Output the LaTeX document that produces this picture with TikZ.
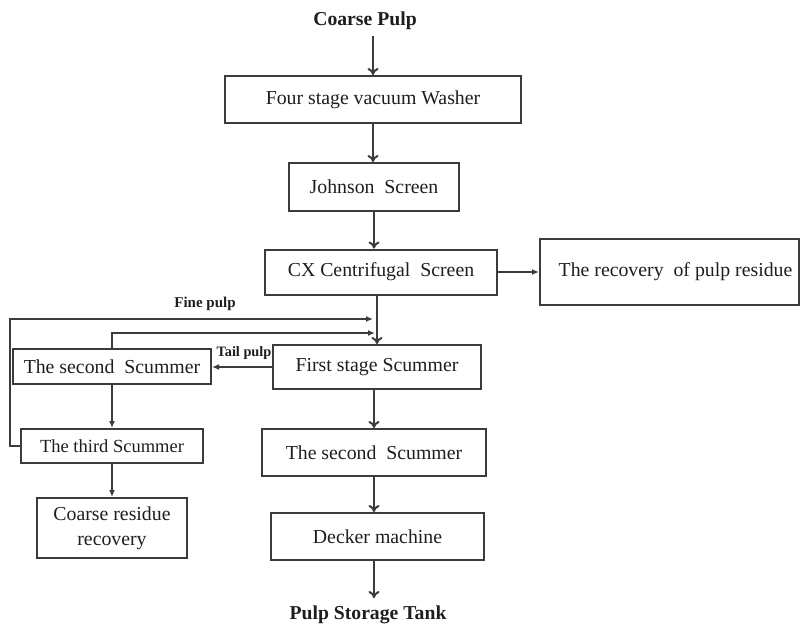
\documentclass[tikz,border=0pt]{standalone}
\usepackage{fontspec}
\setmainfont{Liberation Serif}
\usetikzlibrary{arrows.meta,calc}
\definecolor{ln}{HTML}{3C3C3C}
\definecolor{tx}{HTML}{1E1E1E}
\tikzset{
  box/.style={draw=ln, line width=2pt, inner sep=0pt, align=center, text=tx,
              font=\fontsize{19.8}{25}\selectfont},
  lbl/.style={inner sep=0pt, text=tx, font=\bfseries\fontsize{19.7}{22}\selectfont},
  smalllbl/.style={inner sep=0pt, text=tx, font=\bfseries\fontsize{15}{18}\selectfont},
  arr/.style={draw=ln, line width=2pt, -{To[length=7pt,width=11pt]}},
  arrs/.style={draw=ln, line width=2pt, -{Latex[length=7pt,width=6pt]}},
}
\begin{document}
\begin{tikzpicture}[x=1pt,y=-1pt]
\useasboundingbox (0,0) rectangle (801,624);
% labels
\node[lbl] (cp) at (365,21) {Coarse Pulp};
\node[lbl] (pst) at (368,615) {Pulp Storage Tank};
\node[smalllbl] (fpl) at (205,304) {Fine pulp};
\node[smalllbl, font=\bfseries\fontsize{14.3}{17}\selectfont] (tpl) at (244,353) {Tail pulp};
% boxes
\node[box, minimum width=296pt, minimum height=47pt] (four) at (373,99.5) {Four stage vacuum Washer};
\node[box, minimum width=170pt, minimum height=48pt] (john) at (374,187) {Johnson\ \ Screen};
\node[box, minimum width=232pt, minimum height=45pt] (cx) at (381,272) {CX Centrifugal\ \ Screen};
\node[box, minimum width=259pt, minimum height=66pt] (rec) at (669.5,272) {\hspace*{12pt}The recovery\ \ of pulp residue};
\node[box, minimum width=208pt, minimum height=44pt] (first) at (377,367) {First stage Scummer};
\node[box, minimum width=198pt, minimum height=35pt] (sec2) at (112,366.5) {The second\ \ Scummer};
\node[box, minimum width=182pt, minimum height=34pt, font=\fontsize{18.5}{22}\selectfont] (third) at (112,446) {The third Scummer};
\node[box, minimum width=150pt, minimum height=60pt] (cr) at (112,528) {Coarse residue\\recovery};
\node[box, minimum width=224pt, minimum height=47pt] (sec) at (374,452.5) {The second\ \ Scummer};
\node[box, minimum width=213pt, minimum height=47pt] (deck) at (377.5,536.5) {Decker machine};
% end points of the return lines
\coordinate (fpend) at (373,319);
\coordinate (tpend) at (375,333);
\coordinate (pstend) at (374,598);
% main line
\draw[arr] (four.north |- cp.south) ++(0,6) -- (four.north);
\draw[arr] (four.south) -- (four.south |- john.north);
\draw[arr] (john.south) -- (john.south |- cx.north);
\draw[arrs] (cx.east) -- (rec.west);
\draw[arr] (first.north |- cx.south) -- (first.north);
\draw[arr] (sec.north |- first.south) -- (sec.north);
\draw[arr] (sec.south) -- (sec.south |- deck.north);
\draw[arr] (sec.south |- deck.south) -- (pstend);
% side loop
\draw[arrs] (first.west) -- (first.west -| sec2.east);
\draw[arrs] (sec2.south) -- (sec2.south |- third.north);
\draw[arrs] (third.south) -- (cr.north);
\draw[arrs] (third.west) -- ++(-10,0) |- (fpend);
\draw[arrs] (sec2.north) |- (tpend);
\end{tikzpicture}
\end{document}
